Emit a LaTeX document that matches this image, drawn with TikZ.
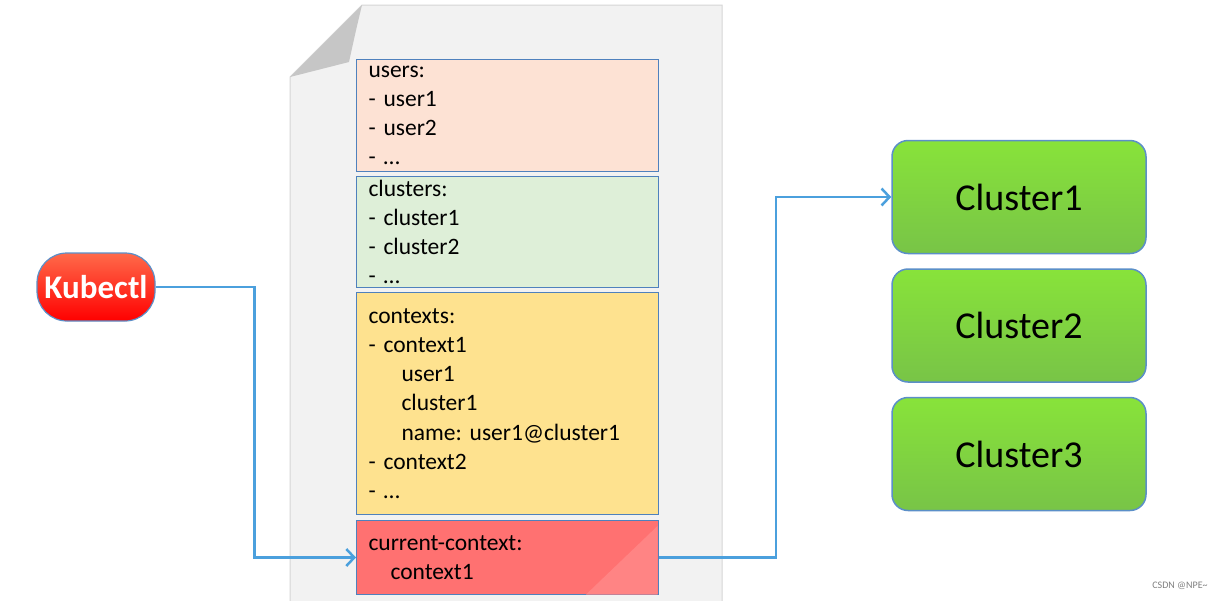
\documentclass[tikz,border=0pt]{standalone}
\usepackage{fontspec}
\setmainfont{Carlito}
\usetikzlibrary{arrows.meta,positioning}
\frenchspacing

\definecolor{pagefill}{HTML}{F2F2F2}
\definecolor{pageline}{HTML}{D6D6D6}
\definecolor{foldfill}{HTML}{C6C6C6}
\definecolor{secline}{HTML}{4F81BD}
\definecolor{userfill}{HTML}{FDE2D4}
\definecolor{clustfill}{HTML}{DEEFD8}
\definecolor{ctxfill}{HTML}{FEE28F}
\definecolor{curfill}{HTML}{FF7171}
\definecolor{curgloss}{HTML}{FF8484}
\definecolor{arrblue}{HTML}{4BA0DD}
\definecolor{kubetop}{HTML}{FF6A4A}
\definecolor{greentop}{HTML}{88E33A}
\definecolor{greenbot}{HTML}{78C447}
\definecolor{boxline}{HTML}{5B8FC8}

\begin{document}
\begin{tikzpicture}[
  x=1pt, y=-1pt,
  sect/.style={draw=secline, line width=1pt, minimum width=302pt, text width=278pt,
    inner xsep=12pt, inner ysep=0pt, align=left, font=\fontsize{23.5}{29.2}\selectfont},
  cluster/.style={draw=boxline, line width=1.5pt, rounded corners=16pt,
    minimum width=254pt, minimum height=113pt, top color=greentop, bottom color=greenbot,
    font=\fontsize{38}{40}\selectfont},
  kube/.style={draw=boxline, line width=1.2pt, rounded corners=30pt,
    minimum width=118pt, minimum height=68pt, inner xsep=2pt,
    top color=kubetop, middle color=red, bottom color=red,
    text=white, font=\fontsize{33}{36}\selectfont\bfseries},
  arr/.style={-{Straight Barb[length=8pt,width=17pt]}, line width=2.5pt, draw=arrblue}
]
  \useasboundingbox (0,0) rectangle (1222,600);
  \fill[white] (0,0) rectangle (1222,600);

  % config file page
  \filldraw[fill=pagefill, draw=pageline, line width=1pt]
    (290,77) -- (362,5) -- (722,5) -- (722,612) -- (290,612) -- cycle;
  \fill[foldfill] (290,77) -- (362,5) .. controls (356,30) .. (349,62) -- cycle;

  \node[sect, fill=userfill, minimum height=112pt, anchor=north west] (users) at (356,59)
    {users:\\- user1\\- user2\\- \dots};
  \node[sect, fill=clustfill, minimum height=111pt, below=4pt of users] (clusters)
    {clusters:\\- cluster1\\- cluster2\\- \dots};
  \node[sect, fill=ctxfill, minimum height=222pt, below=4pt of clusters] (contexts)
    {contexts:\\- context1\\\hspace*{33pt}user1\\\hspace*{33pt}cluster1\\
     \hspace*{33pt}name: user1@cluster1\\- context2\\- \dots};
  \node[sect, fill=curfill, minimum height=74pt, below=5pt of contexts] (current)
    {current-context:\\\hspace*{22pt}context1};
  \fill[curgloss] (586,594.5) -- (657.5,526) -- (657.5,594.5) -- cycle;

  \node[kube] (kubectl) at (96,287) {Kubectl};

  \node[cluster] (c1) at (1019,197) {Cluster1};
  \node[cluster, below=14pt of c1] (c2) {Cluster2};
  \node[cluster, below=14pt of c2] (c3) {Cluster3};

  \draw[arr] (kubectl.east) -- ++(99,0) |- (current.west);
  \draw[arr] (current.east) -- ++(117,0) |- (c1.west);

  \node[text=gray, font=\fontsize{10}{12}\selectfont] (mark) at (1180,586) {CSDN @NPE\textasciitilde};
\end{tikzpicture}
\end{document}
